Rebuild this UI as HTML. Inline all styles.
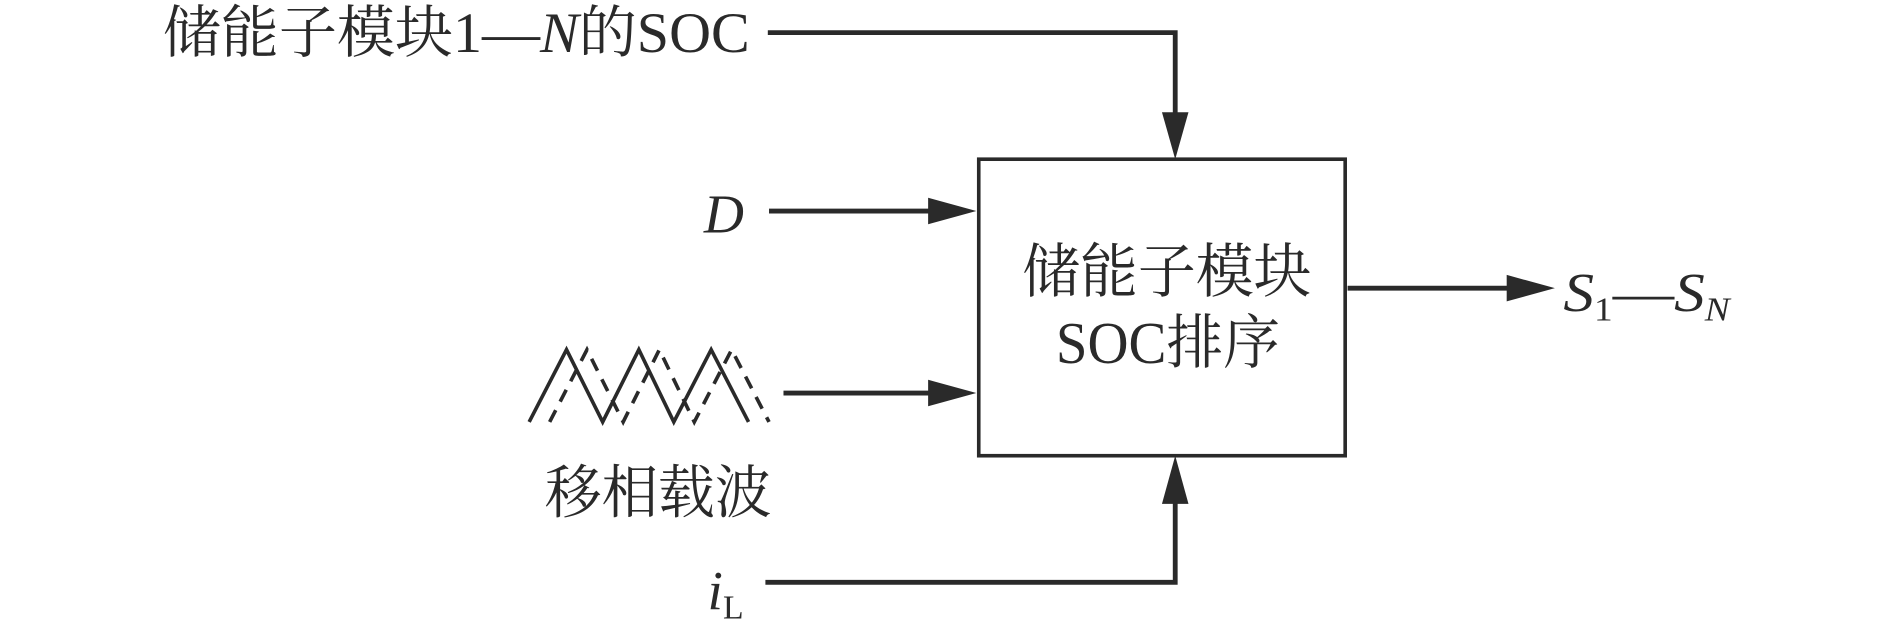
<!DOCTYPE html>
<html><head><meta charset="utf-8"><style>
html,body{margin:0;padding:0;background:#fff;}
svg{display:block;}
text{fill:#2a2a2a;}
</style></head><body>
<svg width="1890" height="633" viewBox="0 0 1568 525" xmlns="http://www.w3.org/2000/svg">
<g font-family="'Liberation Serif','Noto Serif CJK SC',serif">
<text x="135" y="43" font-size="47" textLength="487" lengthAdjust="spacingAndGlyphs">储能子模块1—<tspan font-style="italic">N</tspan>的SOC</text>
<text x="584" y="193" font-size="46" font-style="italic">D</text>
<text x="452" y="425" font-size="48" textLength="188" lengthAdjust="spacingAndGlyphs">移相载波</text>
<text x="587" y="505" font-size="46" font-style="italic">i<tspan font-size="28" font-style="normal" dy="8">L</tspan></text>
<text x="848" y="242" font-size="49" textLength="240" lengthAdjust="spacingAndGlyphs">储能子模块</text>
<text x="876" y="301" font-size="49" textLength="186" lengthAdjust="spacingAndGlyphs">SOC排序</text>
<text x="1297" y="258" font-size="46" font-style="italic" textLength="138" lengthAdjust="spacingAndGlyphs">S<tspan font-size="28" font-style="normal" dy="8">1</tspan><tspan dy="-8" font-style="normal">—</tspan>S<tspan font-size="28" dy="8">N</tspan></text>
</g>
<g stroke="#2a2a2a" stroke-width="4" fill="none">
<polyline points="637,27 975,27 975,95"/>
<line x1="638" y1="175" x2="772" y2="175"/>
<line x1="650" y1="326" x2="772" y2="326"/>
<polyline points="635,483 975,483 975,416"/>
<line x1="1118" y1="239" x2="1252" y2="239"/>
</g>
<rect x="812" y="132" width="304" height="246" fill="none" stroke="#2a2a2a" stroke-width="3"/>
<g fill="#2a2a2a">
<polygon points="964,93 986,93 975,132"/>
<polygon points="770,164 770,186 810,175"/>
<polygon points="770,315 770,337 810,326"/>
<polygon points="964,418 986,418 975,378"/>
<polygon points="1250,228 1250,250 1290,239"/>
</g>
<g stroke="#2a2a2a" stroke-width="3" fill="none">
<polyline points="439,350 470,290 500,350 530,290 559,350 590,290 621,350"/>
<polyline points="456,350 487,290 517,350 547,290 576,350 607,290 638,350" stroke-dasharray="11,8"/>
</g>
</svg>
</body></html>
